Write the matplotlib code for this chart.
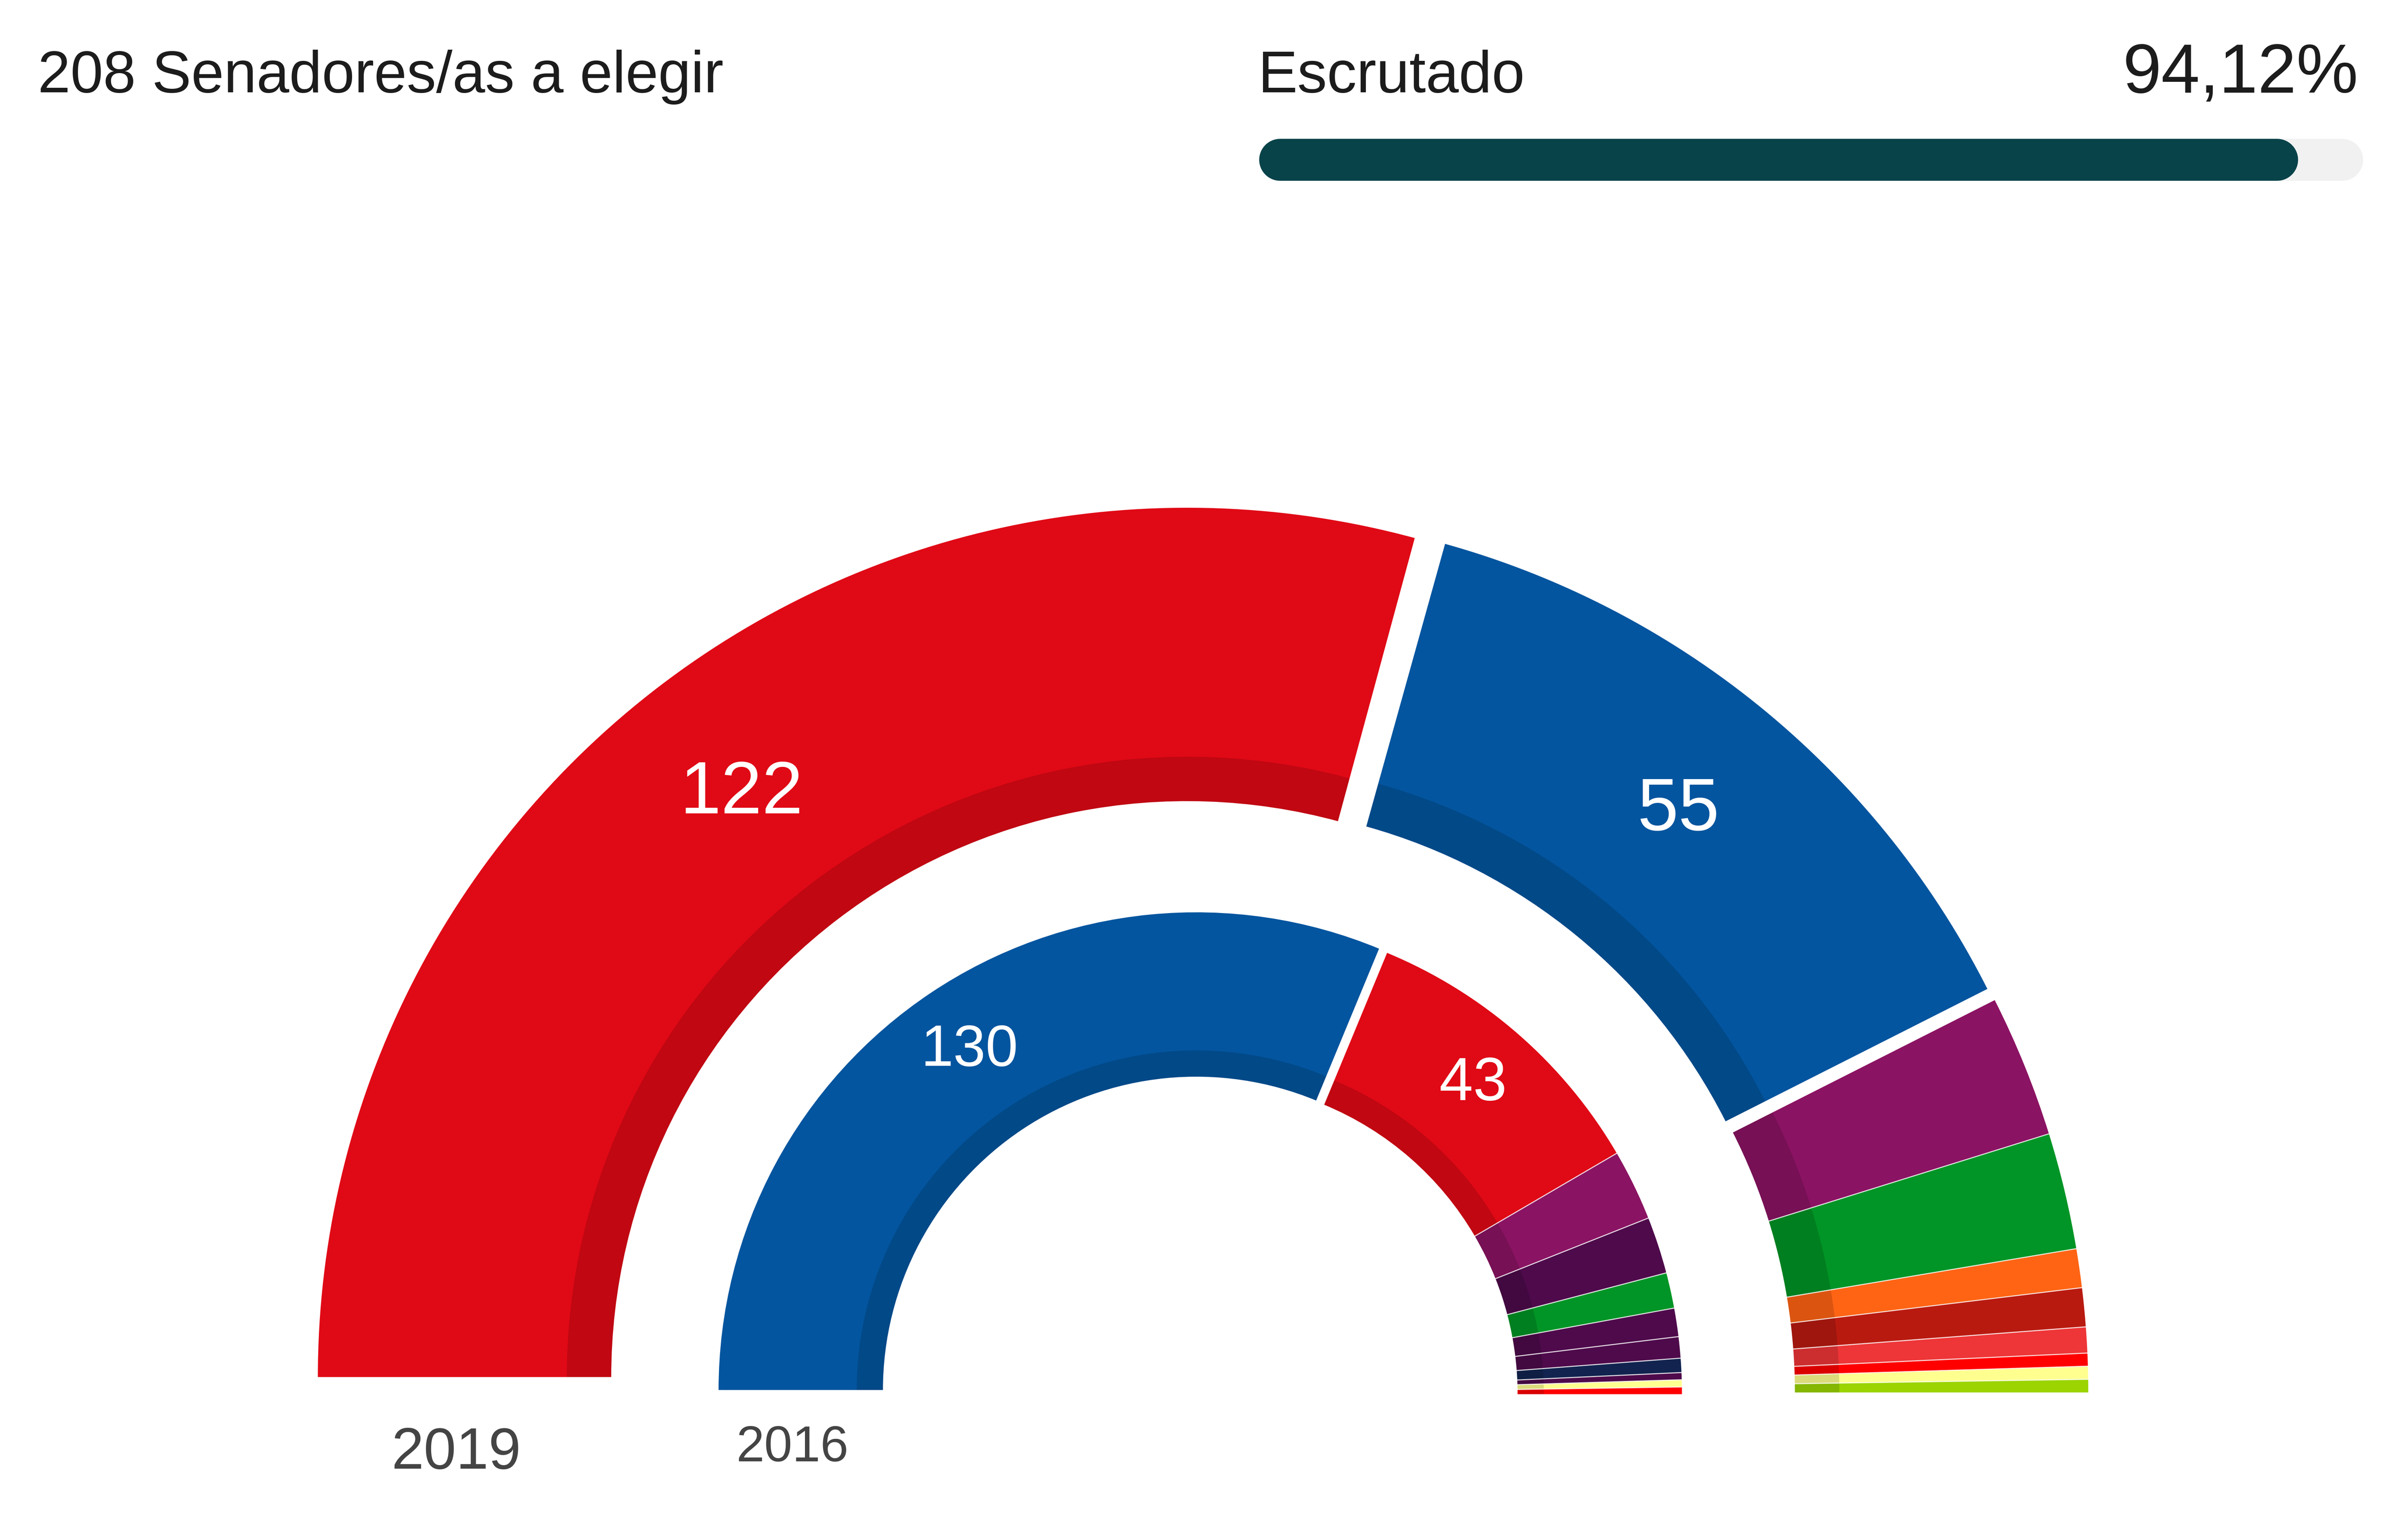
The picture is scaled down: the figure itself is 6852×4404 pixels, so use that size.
import matplotlib
matplotlib.use('Agg')
import matplotlib.pyplot as plt
from matplotlib.patches import Wedge
import numpy as np

plt.rcParams['font.family'] = ['Liberation Sans', 'DejaVu Sans']

total_seats = 208
scrutinized = 94.12

seats_2019 = [122, 55, 11, 9, 3, 3, 2, 1, 1, 1]
colors_2019 = ['#E00916', '#03559F', '#8B1363', '#009526', '#FF6414', '#B91A10',
               '#EE3537', '#FF0000', '#FFFF90', '#9BD400']
seats_2016 = [130, 43, 10, 8, 5, 4, 3, 2, 1, 1, 1]
colors_2016 = ['#03559F', '#E00916', '#8B1363', '#4E0A4B', '#009526', '#4E0A4B',
               '#4E0A4B', '#12234F', '#4E0A4B', '#FFFF90', '#FF0000']

H = 4404
fig = plt.figure(figsize=(68.52, 44.04), dpi=100)
ax = fig.add_axes([0, 0, 1, 1])
ax.set_xlim(0, 6852)
ax.set_ylim(0, H)
ax.axis('off')


def draw_group(seats, colors, center, r_out, r_dark, r_in, start, sep, trim=0):
    # seats go clockwise from the start angle, first ones are offset on their own
    cx, cy = center[0], H - center[1]
    angle = start
    for i, (n, c) in enumerate(zip(seats, colors)):
        end = angle - n / total_seats * 180
        ax.add_patch(Wedge((cx, cy), r_out, end + trim, angle, width=r_out - r_in, fc=c, ec='none'))
        ax.add_patch(Wedge((cx, cy), r_dark, end + trim, angle, width=r_dark - r_in, fc='black', ec='none', alpha=0.14))
        if sep and i > 0:
            t = np.radians(angle)
            ax.plot([cx + r_in * np.cos(t), cx + r_out * np.cos(t)],
                    [cy + r_in * np.sin(t), cy + r_out * np.sin(t)], color='white', lw=2.2, alpha=0.8)
        angle = end
    return angle


# 2019 ring
a = draw_group(seats_2019[:1], colors_2019[:1], (3395, 3938), 2486, 1774, 1647, 180, False, trim=0.4)
a = draw_group(seats_2019[1:2], colors_2019[1:2], (3465, 3950), 2486, 1774, 1647, a, False)
draw_group(seats_2019[2:], colors_2019[2:], (3486, 3982), 2486, 1774, 1647, a, True)

# 2016 ring
a = draw_group(seats_2016[:1], colors_2016[:1], (3421, 3975), 1366, 971, 896, 180, False)
a = draw_group(seats_2016[1:], colors_2016[1:], (3444, 3987), 1366, 971, 896, a, True)

ax.text(2121, H - 2272, '122', color='white', fontsize=152, ha='center', va='center')
ax.text(4800, H - 2319, '55', color='white', fontsize=152, ha='center', va='center')
ax.text(2772, H - 3005, '130', color='white', fontsize=120, ha='center', va='center')
ax.text(4213, H - 3100, '43', color='white', fontsize=125, ha='center', va='center')
ax.text(1305, H - 4157, '2019', color='#444444', fontsize=120, ha='center', va='center')
ax.text(2266, H - 4142, '2016', color='#444444', fontsize=104, ha='center', va='center')

ax.text(108, H - 264, '208 Senadores/as a elegir', color='#1c1c1c', fontsize=121, va='baseline')
ax.text(3597, H - 264, 'Escrutado', color='#1c1c1c', fontsize=122, va='baseline')
ax.text(6745, H - 264, '94,12%', color='#1c1c1c', fontsize=143, ha='right', va='baseline')

# progress bar, round caps extend half the height past each end
bar_x, bar_w, bar_y, bar_h = 3601, 3157, 457, 120
cap = bar_h / 2
bar_lw = bar_h * 72 / 100
ax.plot([bar_x + cap, bar_x + bar_w - cap], [H - bar_y, H - bar_y], color='#F1F1F1',
        lw=bar_lw, solid_capstyle='round')
ax.plot([bar_x + cap, bar_x + bar_w * scrutinized / 100 - cap], [H - bar_y, H - bar_y], color='#08434A',
        lw=bar_lw, solid_capstyle='round')

fig.savefig('out.png', dpi=100, facecolor='white')
